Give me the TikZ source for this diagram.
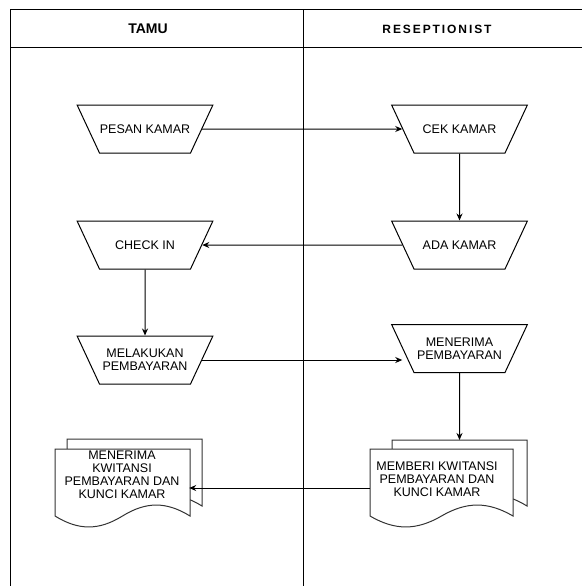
\documentclass[tikz,border=0pt]{standalone}
\usepackage{fontspec}
\setmainfont{Liberation Sans}
\usetikzlibrary{positioning, arrows.meta, shapes.geometric, calc}
% text box of a process step: 91pt wide, 48pt high
\newcommand{\steptext}[1]{\parbox[c][48pt][c]{91pt}{\centering #1}}
% document outline: x0, y0, width, height (wavy bottom)
\newcommand{\docshape}[4]{%
  \draw[docline] (#1,#2+#4) -- (#1,#2) -- (#1+#3,#2) -- (#1+#3,#2+#4)
    .. controls (#1+0.825*#3,#2+#4-14.6) and (#1+0.675*#3,#2+#4-14.6) .. (#1+0.5*#3,#2+#4)
    .. controls (#1+0.325*#3,#2+#4+14.6) and (#1+0.175*#3,#2+#4+14.6) .. (#1,#2+#4) -- cycle;}

\begin{document}
\begin{tikzpicture}[x=1pt, y=-1pt,
    lane/.style={line width=1pt},
    proc/.style={draw, line width=1pt, trapezium, trapezium left angle=65,
      trapezium right angle=65, shape border rotate=180, inner sep=0pt,
      font=\fontsize{12.5}{13}\selectfont},
    docline/.style={draw=black!80, line width=1pt, fill=white},
    doctext/.style={align=center, inner sep=0pt, minimum height=52pt,
      font=\fontsize{12.5}{13}\selectfont},
    flow/.style={line width=1pt, -{Stealth[length=7pt, width=6pt]}}]
    \useasboundingbox (0,0) rectangle (582,586);
    % swimlanes
    \draw[lane] (10,586) -- (10,10) -- (582,10);
    \draw[lane] (10,48) -- (582,48);
    \draw[lane] (303,10) -- (303,586);
    \node[font=\bfseries\fontsize{14}{15}\selectfont] (tamu) at (148,29) {TAMU};
    \node[font=\bfseries\fontsize{12}{14}\selectfont\addfontfeature{LetterSpace=16}]
      (resep) at (437,29) {RESEPTIONIST};

    % process steps
    \node[proc] (pesan) at (145,129) {\steptext{PESAN KAMAR}};
    \node[proc] (cek) at (459.5,129) {\steptext{CEK KAMAR}};
    \node[proc, below=67pt of cek] (ada) {\steptext{ADA KAMAR}};
    \node[proc, below=67pt of pesan] (checkin) {\steptext{CHECK IN}};
    \node[proc, below=66pt of checkin] (bayar) {\steptext{MELAKUKAN\\PEMBAYARAN}};
    \node[proc] (terima) at (459.5,348.5) {\steptext{MENERIMA\\PEMBAYARAN}};

    % documents
    \docshape{67}{439}{135}{67}
    \docshape{55}{449}{135}{67}
    \docshape{392}{440}{135}{66}
    \docshape{370}{449}{143}{67}
    \node[doctext, minimum width=134pt] (kwitansi) at (122,474.5)
      {MENERIMA\\KWITANSI\\PEMBAYARAN DAN\\KUNCI KAMAR};
    \node[doctext, minimum width=134pt] (memberi) at (437,479)
      {MEMBERI KWITANSI\\PEMBAYARAN DAN\\KUNCI KAMAR};
    \coordinate (memberitop) at (459.5,440);

    % flow
    \draw[flow] (pesan) -- (cek);
    \draw[flow] (cek) -- (ada);
    \draw[flow] (ada) -- (checkin);
    \draw[flow] (checkin) -- (bayar);
    \draw[flow] (bayar.east) -- (bayar.east -| terima.west);
    \draw[flow] (terima) -- (memberitop);
    \draw[flow] ([yshift=-9pt]memberi.west) -- ([yshift=-9pt]memberi.west -| kwitansi.east);
\end{tikzpicture}
\end{document}
